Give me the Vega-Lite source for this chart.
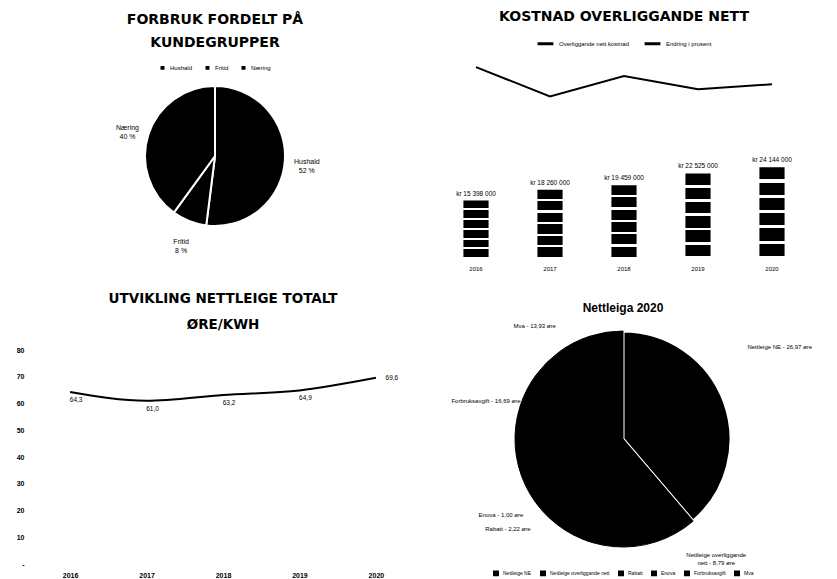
{
  "$schema": "https://vega.github.io/schema/vega-lite/v6.json",
  "background": "white",
  "padding": {"left": 16, "top": 10, "right": 0, "bottom": 0},
  "config": {
    "view": {"stroke": null},
    "font": "Liberation Sans",
    "title": {"font": "DejaVu Sans", "fontWeight": "bold", "fontSize": 14, "color": "black", "anchor": "middle"},
    "legend": {"labelFontSize": 6, "labelColor": "black", "symbolSize": 30, "columnPadding": 8,
      "layout": {"top": {"anchor": "middle"}, "bottom": {"anchor": "middle"}}}
  },
  "resolve": {"scale": {"color": "independent"}, "legend": {"color": "independent"}},
  "spacing": 20,
  "vconcat": [
    {
      "spacing": 47,
      "resolve": {"scale": {"color": "independent"}, "legend": {"color": "independent"}},
      "hconcat": [
        {
          "title": {"text": ["FORBRUK FORDELT PÅ", "KUNDEGRUPPER"], "offset": 4, "lineHeight": 23},
          "width": 354,
          "height": 204,
          "data": {"values": [
            {"gruppe": "Hushald", "andel": 52, "tekst": "Hushald\n52 %", "rekke": 1},
            {"gruppe": "Fritid", "andel": 8, "tekst": "Fritid\n8 %", "rekke": 2},
            {"gruppe": "Næring", "andel": 40, "tekst": "Næring\n40 %", "rekke": 3}
          ]},
          "layer": [
            {
              "mark": {"type": "arc", "outerRadius": 70, "stroke": "white", "strokeWidth": 2},
              "encoding": {
                "theta": {"field": "andel", "type": "quantitative", "stack": true},
                "order": {"field": "rekke", "type": "quantitative"},
                "color": {"field": "gruppe", "type": "nominal",
                  "scale": {"domain": ["Hushald", "Fritid", "Næring"], "range": ["black", "black", "black"]},
                  "legend": {"orient": "top", "title": null, "direction": "horizontal", "symbolType": "square", "offset": -20}}
              }
            },
            {
              "mark": {"type": "text", "radius": 92, "fontSize": 7, "lineBreak": "\n", "color": "black"},
              "encoding": {
                "theta": {"field": "andel", "type": "quantitative", "stack": true},
                "order": {"field": "rekke", "type": "quantitative"},
                "text": {"field": "tekst", "type": "nominal"}
              }
            }
          ]
        },
        {
          "title": {"text": "KOSTNAD OVERLIGGANDE NETT", "offset": 10},
          "width": 370,
          "height": 205,
          "data": {"values": [
            {"aar": "2016", "kostnad": 15398000, "tekst": "kr 15 398 000", "endring": 9.36, "serie": "Endring i prosent"},
            {"aar": "2017", "kostnad": 18260000, "tekst": "kr 18 260 000", "endring": 7.93, "serie": "Endring i prosent"},
            {"aar": "2018", "kostnad": 19459000, "tekst": "kr 19 459 000", "endring": 8.92, "serie": "Endring i prosent"},
            {"aar": "2019", "kostnad": 22525000, "tekst": "kr 22 525 000", "endring": 8.28, "serie": "Endring i prosent"},
            {"aar": "2020", "kostnad": 24144000, "tekst": "kr 24 144 000", "endring": 8.52, "serie": "Endring i prosent"}
          ]},
          "encoding": {
            "x": {"field": "aar", "type": "nominal", "scale": {"paddingInner": 0.66, "paddingOuter": 0.33},
              "axis": {"title": null, "domain": false, "ticks": false, "labelAngle": 0, "labelFontSize": 6, "labelPadding": 6, "labelColor": "black"}}
          },
          "layer": [
            {
              "mark": {"type": "bar", "fill": {"gradient": "linear", "x1": 0, "y1": 0, "x2": 0, "y2": 1, "stops": [
                {"offset": 0, "color": "black"}, {"offset": 0.13, "color": "black"}, {"offset": 0.13, "color": "white"}, {"offset": 0.1667, "color": "white"},
                {"offset": 0.1667, "color": "black"}, {"offset": 0.3, "color": "black"}, {"offset": 0.3, "color": "white"}, {"offset": 0.3333, "color": "white"},
                {"offset": 0.3333, "color": "black"}, {"offset": 0.4667, "color": "black"}, {"offset": 0.4667, "color": "white"}, {"offset": 0.5, "color": "white"},
                {"offset": 0.5, "color": "black"}, {"offset": 0.6333, "color": "black"}, {"offset": 0.6333, "color": "white"}, {"offset": 0.6667, "color": "white"},
                {"offset": 0.6667, "color": "black"}, {"offset": 0.8, "color": "black"}, {"offset": 0.8, "color": "white"}, {"offset": 0.8333, "color": "white"},
                {"offset": 0.8333, "color": "black"}, {"offset": 0.9667, "color": "black"}, {"offset": 0.9667, "color": "white"}, {"offset": 1, "color": "white"}
              ]}},
              "encoding": {
                "y": {"field": "kostnad", "type": "quantitative", "scale": {"domain": [0, 54000000]}, "axis": null}
              }
            },
            {
              "mark": {"type": "text", "fontSize": 6.5, "baseline": "bottom", "dy": -4, "color": "black"},
              "encoding": {
                "y": {"field": "kostnad", "type": "quantitative", "scale": {"domain": [0, 54000000]}, "axis": null},
                "text": {"field": "tekst", "type": "nominal"}
              }
            },
            {
              "mark": {"type": "line", "strokeWidth": 2},
              "encoding": {
                "y": {"field": "endring", "type": "quantitative", "scale": {"domain": [0, 10]}, "axis": null},
                "color": {"field": "serie", "type": "nominal",
                  "scale": {"domain": ["Overliggande nett kostnad", "Endring i prosent"], "range": ["black", "black"]},
                  "legend": {"orient": "top", "title": null, "direction": "horizontal", "symbolType": "stroke", "symbolStrokeWidth": 3, "symbolSize": 250, "offset": 4}}
              }
            }
          ],
          "resolve": {"scale": {"y": "independent"}}
        }
      ]
    },
    {
      "spacing": 30,
      "resolve": {"scale": {"color": "independent"}, "legend": {"color": "independent"}},
      "hconcat": [
        {
          "title": {"text": ["UTVIKLING NETTLEIGE TOTALT", "ØRE/KWH"], "offset": 15, "fontSize": 13.5, "lineHeight": 26},
          "width": 370,
          "height": 214,
          "data": {"values": [
            {"aar": "2016", "ore": 64.3, "tekst": "64,3"},
            {"aar": "2017", "ore": 61.0, "tekst": "61,0"},
            {"aar": "2018", "ore": 63.2, "tekst": "63,2"},
            {"aar": "2019", "ore": 64.9, "tekst": "64,9"},
            {"aar": "2020", "ore": 69.6, "tekst": "69,6"}
          ]},
          "encoding": {
            "x": {"field": "aar", "type": "ordinal", "scale": {"type": "point", "padding": 0.42},
              "axis": {"title": null, "domain": false, "ticks": false, "labelAngle": 0, "labelFontSize": 7, "labelFontWeight": "bold", "labelPadding": 7, "labelColor": "black"}},
            "y": {"field": "ore", "type": "quantitative", "scale": {"domain": [0, 80]},
              "axis": {"title": null, "domain": false, "ticks": false, "grid": false, "values": [0, 10, 20, 30, 40, 50, 60, 70, 80], "labelFontSize": 7, "labelFontWeight": "bold", "labelPadding": 14, "labelColor": "black",
                "labelExpr": "datum.value == 0 ? '-' : datum.label"}}
          },
          "layer": [
            {"mark": {"type": "line", "interpolate": "monotone", "color": "black", "strokeWidth": 2}},
            {
              "transform": [{"filter": "datum.aar != '2020'"}],
              "mark": {"type": "text", "fontSize": 6.5, "dy": 8, "dx": 6, "color": "black"},
              "encoding": {"text": {"field": "tekst", "type": "nominal"}}
            },
            {
              "transform": [{"filter": "datum.aar == '2020'"}],
              "mark": {"type": "text", "fontSize": 6.5, "dx": 16, "color": "black"},
              "encoding": {"text": {"field": "tekst", "type": "nominal"}}
            }
          ]
        },
        {
          "title": {"text": "Nettleiga 2020", "font": "Liberation Sans", "fontSize": 12, "offset": 8},
          "width": 370,
          "height": 178,
          "data": {"values": [
            {"del": "Nettleige NE", "ore": 26.97, "tekst": "Nettleige NE - 26,97 øre", "rekke": 1},
            {"del": "Nettleige overliggande nett", "ore": 8.79, "tekst": "Nettleige overliggande\nnett - 8,79 øre", "rekke": 2},
            {"del": "Rabatt", "ore": 2.22, "tekst": "Rabatt - 2,22 øre", "rekke": 3},
            {"del": "Enova", "ore": 1.0, "tekst": "Enova - 1,00 øre", "rekke": 4},
            {"del": "Forbruksavgift", "ore": 16.69, "tekst": "Forbruksavgift - 16,69 øre", "rekke": 5},
            {"del": "Mva", "ore": 13.93, "tekst": "Mva - 13,93 øre", "rekke": 6}
          ]},
          "layer": [
            {
              "mark": {"type": "arc", "outerRadius": 108},
              "encoding": {
                "theta": {"field": "ore", "type": "quantitative", "stack": true, "scale": {"domain": [0, 69.6]}},
                "order": {"field": "rekke", "type": "quantitative"},
                "stroke": {"condition": {"test": "datum.rekke == 1", "value": "white"}, "value": "black"},
                "strokeWidth": {"condition": {"test": "datum.rekke == 1", "value": 3}, "value": 1},
                "color": {"field": "del", "type": "nominal",
                  "scale": {"domain": ["Nettleige NE", "Nettleige overliggande nett", "Rabatt", "Enova", "Forbruksavgift", "Mva"], "range": ["black", "black", "black", "black", "black", "black"]},
                  "legend": {"orient": "bottom", "title": null, "direction": "horizontal", "symbolType": "square", "offset": 42, "labelFontSize": 5, "columnPadding": 5, "symbolSize": 20}}
              }
            },
            {
              "transform": [
                {"stack": "ore", "groupby": [], "sort": [{"field": "rekke"}], "as": ["s0", "s1"]},
                {"calculate": "(datum.s0 + datum.s1) / 2", "as": "midt"}
              ],
              "layer": [
                {
                  "transform": [{"filter": "datum.rekke == 1"}],
                  "mark": {"type": "text", "radius": 150, "dx": 16, "dy": -40, "fontSize": 6, "color": "black"},
                  "encoding": {"theta": {"field": "midt", "type": "quantitative", "scale": {"domain": [0, 69.6]}}, "text": {"field": "tekst", "type": "nominal"}}
                },
                {
                  "transform": [{"filter": "datum.rekke == 2"}],
                  "mark": {"type": "text", "radius": 122, "dx": 56, "fontSize": 6, "lineBreak": "\n", "color": "black"},
                  "encoding": {"theta": {"field": "midt", "type": "quantitative", "scale": {"domain": [0, 69.6]}}, "text": {"field": "tekst", "type": "nominal"}}
                },
                {
                  "transform": [{"filter": "datum.rekke == 3"}],
                  "mark": {"type": "text", "radius": 92, "dx": -98, "fontSize": 6, "color": "black"},
                  "encoding": {"theta": {"field": "midt", "type": "quantitative", "scale": {"domain": [0, 69.6]}}, "text": {"field": "tekst", "type": "nominal"}}
                },
                {
                  "transform": [{"filter": "datum.rekke == 4"}],
                  "mark": {"type": "text", "radius": 80, "dx": -96, "fontSize": 6, "color": "black"},
                  "encoding": {"theta": {"field": "midt", "type": "quantitative", "scale": {"domain": [0, 69.6]}}, "text": {"field": "tekst", "type": "nominal"}}
                },
                {
                  "transform": [{"filter": "datum.rekke == 5"}],
                  "mark": {"type": "text", "radius": 136, "dx": -14, "dy": -96, "fontSize": 6, "color": "black"},
                  "encoding": {"theta": {"field": "midt", "type": "quantitative", "scale": {"domain": [0, 69.6]}}, "text": {"field": "tekst", "type": "nominal"}}
                },
                {
                  "transform": [{"filter": "datum.rekke == 6"}],
                  "mark": {"type": "text", "radius": 140, "dx": -6, "fontSize": 6, "color": "black"},
                  "encoding": {"theta": {"field": "midt", "type": "quantitative", "scale": {"domain": [0, 69.6]}}, "text": {"field": "tekst", "type": "nominal"}}
                }
              ]
            }
          ]
        }
      ]
    }
  ]
}
